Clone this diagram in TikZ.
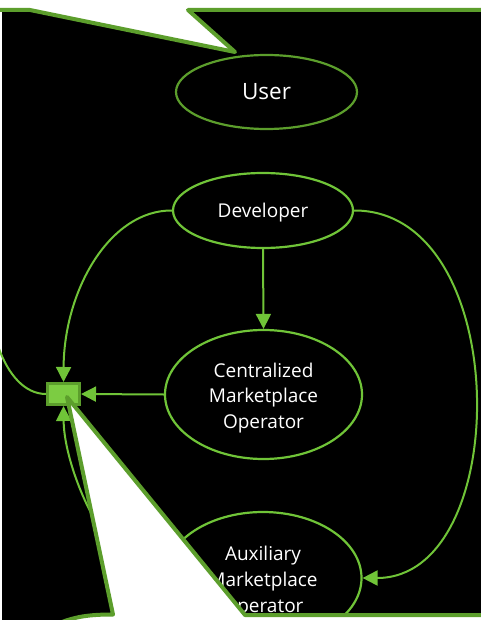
\documentclass[tikz,border=0pt]{standalone}
\usepackage{fontspec}
\setmainfont{Open Sans}
\usetikzlibrary{shapes.geometric,arrows.meta}
\definecolor{bordergreen}{RGB}{92,158,44}
\definecolor{linegreen}{RGB}{112,196,56}
\definecolor{boxfill}{RGB}{124,204,66}
\newcommand{\pushtext}[1]{\rule{0pt}{#1}}
\begin{document}
\begin{tikzpicture}[x=1pt,y=-1pt,
  oval/.style={ellipse, draw=linegreen, line width=2.2pt, text=white, inner sep=0pt, align=center},
  bigtext/.style={font=\fontsize{22.5}{27}\selectfont},
  midtext/.style={font=\fontsize{19}{25.8}\selectfont},
  linkline/.style={draw=linegreen, line width=2pt},
  conn/.style={linkline, -{Triangle[length=15pt,width=15pt]}},
  edgeline/.style={draw=bordergreen, line width=4pt, line join=round}]
\fill[white] (0,0) rectangle (481,620);
\useasboundingbox (0,0) rectangle (481,620);
\fill[black] (1.5,10) rectangle (481,620);

\node[oval, draw=bordergreen, minimum width=181pt, minimum height=74pt, bigtext] (user) at (266.5,92) {User};
\node[oval, minimum width=180pt, minimum height=75pt, midtext] (dev) at (263,210.5) {\pushtext{18.5pt}Developer};
\node[oval, minimum width=197pt, minimum height=129pt, midtext] (cmo) at (263.5,394.5) {\pushtext{21.5pt}Centralized\\Marketplace\\Operator};
\node[oval, minimum width=197pt, minimum height=132pt, midtext] (amo) at (263,578) {\pushtext{21.5pt}Auxiliary\\Marketplace\\Operator};
\node[draw=bordergreen, fill=boxfill, line width=3pt, minimum width=32pt, minimum height=21pt, inner sep=0pt] (sq) at (63.5,394) {};

\coordinate (lft) at (-2,346);
\draw[linkline] (lft) .. controls (8,375) and (25,394) .. (sq.west);
\draw[conn] (dev.south) -- (cmo.north);
\draw[conn] (cmo.west) -- (sq.east);
\draw[conn] (dev.west) .. controls (110,210) and (64,290) .. (sq.north);
\draw[conn] (dev.east) .. controls (514,210) and (514,578) .. (amo.east);
\draw[conn] (amo.west) .. controls (110,578) and (64,470) .. (sq.south);

\fill[white] (30,10) -- (235,52) -- (188,10) -- cycle;
\fill[white] (67,397) -- (245,615) -- (481,615) -- (481,620) -- (67,620) .. controls (78,616) and (92,614.5) .. (113,614.5) -- cycle;
\draw[edgeline] (-3,10) -- (30,10) -- (235,52) -- (188,10) -- (484,10);
\draw[edgeline] (484,615) -- (245,615) -- (67,397) -- (113,614.5) .. controls (92,614.5) and (78,616) .. (62,622);
\end{tikzpicture}
\end{document}
